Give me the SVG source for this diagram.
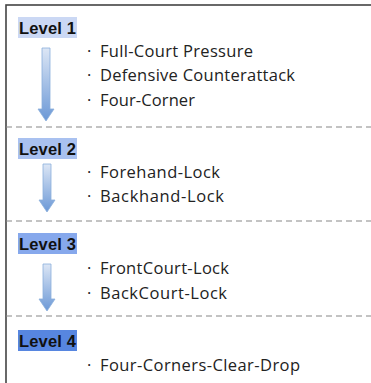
<svg xmlns="http://www.w3.org/2000/svg" width="371" height="383" viewBox="0 0 371 383">
<defs>
<linearGradient id="ag" x1="0" y1="0" x2="0" y2="1">
<stop offset="0" stop-color="#dce6f5"/>
<stop offset="1" stop-color="#6b98d6"/>
</linearGradient>
<style>
.lbl{font-family:"Liberation Sans",Arial,sans-serif;font-weight:bold;font-size:16.5px;fill:#111}
.item{font-family:"Open Sans","Noto Sans",sans-serif;font-size:16.5px;fill:#222}
.dot{font-family:"Open Sans","Noto Sans",sans-serif;font-size:16.5px;fill:#222}
.sep{stroke:#888;stroke-width:1.2;stroke-dasharray:6 4;fill:none}
.arrow{fill:url(#ag);stroke:#8aaedc;stroke-width:0.8}
</style>
</defs>
<rect x="6" y="5" width="380" height="390" fill="#fff" stroke="#444" stroke-width="1.6"/>
<g id="connectors">
<path class="arrow" d="M42,48 H50 V109 H54 L46,121 L38,109 H42 Z"/>
<path class="arrow" d="M43,164 H51 V200 H55 L47,212 L39,200 H43 Z"/>
<path class="arrow" d="M43,264 H51 V299 H55 L47,311 L39,299 H43 Z"/>
</g>
<g id="separators">
<line class="sep" x1="6" y1="127" x2="371" y2="127"/>
<line class="sep" x1="6" y1="221" x2="371" y2="221"/>
<line class="sep" x1="6" y1="316" x2="371" y2="316"/>
</g>
<g id="level1">
<rect x="18" y="17" width="59" height="21" fill="#cbd8f4"/>
<text class="lbl" x="19" y="34" textLength="57">Level 1</text>
<text class="dot" x="87" y="57">·</text><text class="item" x="100" y="57" textLength="153">Full-Court Pressure</text>
<text class="dot" x="87" y="81">·</text><text class="item" x="100" y="81" textLength="195">Defensive Counterattack</text>
<text class="dot" x="87" y="106">·</text><text class="item" x="100" y="106" textLength="95">Four-Corner</text>
</g>
<g id="level2">
<rect x="18" y="138" width="59" height="21" fill="#a9c1f0"/>
<text class="lbl" x="19" y="155" textLength="57">Level 2</text>
<text class="dot" x="87" y="178">·</text><text class="item" x="100" y="178" textLength="120">Forehand-Lock</text>
<text class="dot" x="87" y="202">·</text><text class="item" x="100" y="202" textLength="124">Backhand-Lock</text>
</g>
<g id="level3">
<rect x="18" y="233" width="59" height="21" fill="#86a8ec"/>
<text class="lbl" x="19" y="250" textLength="57">Level 3</text>
<text class="dot" x="87" y="274">·</text><text class="item" x="100" y="274" textLength="129">FrontCourt-Lock</text>
<text class="dot" x="87" y="299">·</text><text class="item" x="100" y="299" textLength="127">BackCourt-Lock</text>
</g>
<g id="level4">
<rect x="18" y="330" width="59" height="21" fill="#5786e0"/>
<text class="lbl" x="19" y="347" textLength="57">Level 4</text>
<text class="dot" x="87" y="371">·</text><text class="item" x="100" y="371" textLength="200">Four-Corners-Clear-Drop</text>
</g>
</svg>
